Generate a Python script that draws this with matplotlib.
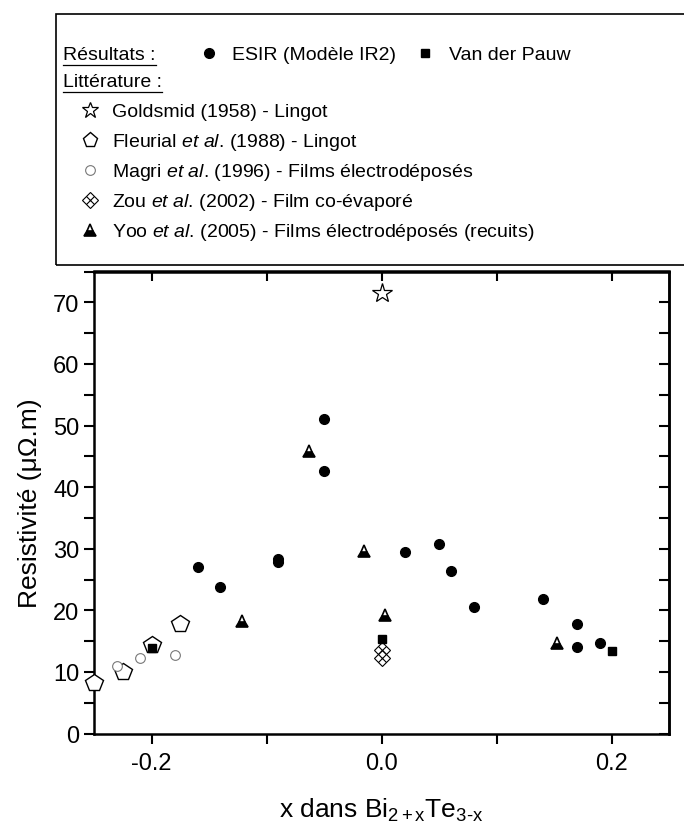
import matplotlib
matplotlib.use("Agg")
import matplotlib.pyplot as plt
from matplotlib.lines import Line2D
from matplotlib.patches import Rectangle

plt.rcParams['font.family'] = ['Liberation Sans', 'DejaVu Sans']
plt.rcParams['mathtext.fontset'] = 'custom'
plt.rcParams['mathtext.rm'] = 'Liberation Sans'
plt.rcParams['mathtext.it'] = 'Liberation Sans:italic'
plt.rcParams['axes.unicode_minus'] = False

# ESIR (Modele IR2) results
esir_x = [-0.16, -0.14, -0.09, -0.09, -0.05, -0.05, 0.02, 0.05, 0.06, 0.08, 0.14, 0.17, 0.17, 0.19]
esir_y = [27.0, 23.8, 28.4, 27.9, 51.0, 42.6, 29.4, 30.7, 26.3, 20.5, 21.9, 17.7, 14.0, 14.7]

# Van der Pauw results
vdp_x = [-0.2, 0.0, 0.2]
vdp_y = [13.8, 15.3, 13.4]

# literature
goldsmid_x = [0.0]
goldsmid_y = [71.5]
fleurial_x = [-0.25, -0.225, -0.2, -0.175]
fleurial_y = [8.2, 10.0, 14.4, 17.8]
magri_x = [-0.23, -0.21, -0.18]
magri_y = [11.0, 12.3, 12.7]
zou_x = [0.0, 0.0]
zou_y = [13.5, 12.2]
yoo_x = [-0.121, -0.063, -0.015, 0.003, 0.153]
yoo_y = [18.3, 45.9, 29.7, 19.3, 14.7]

W, H = 684, 829


def fx(px):
    return px / W


def fy(py):
    return 1 - py / H


fig = plt.figure(figsize=(W / 100, H / 100), dpi=100)
ax = fig.add_axes([fx(94), fy(734.5), fx(669) - fx(94), fy(272.5) - fy(734.5)])

# marker styles
st_esir = dict(marker='o', color='k', ms=7, ls='none')
st_vdp = dict(marker='s', color='k', ms=6, ls='none')
st_gold = dict(marker='*', mfc='white', mec='k', mew=0.9, ms=15, ls='none')
st_fleu = dict(marker='p', mfc='white', mec='k', mew=1.0, ms=13, ls='none')
st_magri = dict(marker='o', mfc='white', mec='#777777', mew=0.8, ms=7, ls='none')
st_zou = dict(marker='D', mfc='white', mec='k', mew=0.8, ms=8, ls='none')
st_zoux = dict(marker='x', color='k', mew=0.8, ms=6, ls='none')
st_yoo = dict(marker='^', mfc='k', mfcalt='white', fillstyle='bottom', mec='k', mew=1.2, ms=8, ls='none')

ax.plot(fleurial_x, fleurial_y, clip_on=False, zorder=3, **st_fleu)
ax.plot(magri_x, magri_y, zorder=3, **st_magri)
ax.plot(goldsmid_x, goldsmid_y, zorder=3, **st_gold)
ax.plot(zou_x, zou_y, zorder=3, **st_zou)
ax.plot(zou_x, zou_y, zorder=3, **st_zoux)
ax.plot(yoo_x, yoo_y, zorder=3, **st_yoo)
ax.plot(esir_x, esir_y, zorder=4, **st_esir)
ax.plot(vdp_x, vdp_y, zorder=4, **st_vdp)

ax.set_xlim(-0.25, 0.25)
ax.set_ylim(0, 75)
ax.set_xticks([-0.2, 0.0, 0.2])
ax.set_xticks([-0.1, 0.1], minor=True)
ax.set_yticks(range(0, 80, 10))
ax.set_yticks(range(5, 80, 10), minor=True)
ax.tick_params(which='both', direction='out', length=7, width=1.5, labelsize=17, top=False, right=False)
ax.tick_params(axis='x', pad=6)
for s in ax.spines.values():
    s.set_linewidth(1.8)

# inward ticks on top and right
top = ax.secondary_xaxis('top')
top.set_xticks([-0.2, -0.1, 0.0, 0.1, 0.2])
top.tick_params(direction='in', length=7, width=1.5, labeltop=False)
right = ax.secondary_yaxis('right')
right.set_yticks(range(0, 80, 5))
right.tick_params(direction='in', length=7, width=1.5, labelright=False)
top.spines['top'].set_linewidth(1.8)
right.spines['right'].set_linewidth(1.8)

ax.set_ylabel('Resistivité (μΩ.m)', fontsize=19, labelpad=8)
ax.set_xlabel(r'x dans Bi$_{\mathregular{2+x}}$Te$_{\mathregular{3‐x}}$', fontsize=19, labelpad=16)

# legend box
fig.add_artist(Rectangle((fx(56), fy(266)), fx(700) - fx(56), fy(15) - fy(266),
                         transform=fig.transFigure, fill=False, ec='k', lw=1.2))

fs = 14
renderer = fig.canvas.get_renderer()


def heading(px, py, s):
    t = fig.text(fx(px), fy(py), s, fontsize=fs, va='baseline', ha='left')
    bb = t.get_window_extent(renderer)
    y = bb.y0 - 2
    fig.add_artist(Line2D([bb.x0 / W, bb.x1 / W], [y / H, y / H], color='k', lw=0.9))


def entry(mx, tx, py, s, styles):
    for st in styles:
        fig.add_artist(Line2D([fx(mx)], [fy(py - 6)], transform=fig.transFigure, **st))
    fig.text(fx(tx), fy(py), s, fontsize=fs, va='baseline', ha='left')


heading(63, 60, 'Résultats :')
entry(209, 232, 60, 'ESIR (Modèle IR2)', [st_esir])
entry(425, 449, 60, 'Van der Pauw', [st_vdp])
heading(63, 87, 'Littérature :')

rows = [
    ('Goldsmid (1958) - Lingot', [dict(st_gold, ms=12)]),
    (r'Fleurial $\mathit{et\ al}$. (1988) - Lingot', [dict(st_fleu, ms=11)]),
    (r'Magri $\mathit{et\ al}$. (1996) - Films électrodéposés', [st_magri]),
    (r'Zou $\mathit{et\ al}$. (2002) - Film co-évaporé', [st_zou, st_zoux]),
    (r'Yoo $\mathit{et\ al}$. (2005) - Films électrodéposés (recuits)', [st_yoo]),
]
for i, (s, sts) in enumerate(rows):
    entry(90, 112, 117 + i * 30, s, sts)

fig.savefig('out.png', dpi=100)
